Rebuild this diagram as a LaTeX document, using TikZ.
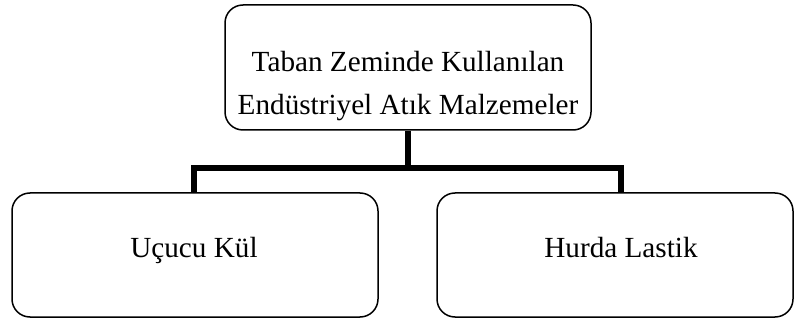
\documentclass[tikz,border=0pt]{standalone}
\usepackage{fontspec}
\setmainfont{Liberation Serif}
\begin{document}
\begin{tikzpicture}[x=1pt,y=1pt,
  box/.style={draw=black,line width=1.5pt,rounded corners=18pt,fill=white,inner sep=0pt},
  lbl/.style={font=\fontsize{29.2}{43}\selectfont,inner sep=0pt,anchor=base,align=center},
  conn/.style={draw=black,line width=5.5pt,line join=miter}]
\useasboundingbox[fill=white] (0,0) rectangle (795,324);
\node[box,minimum width=366pt,minimum height=125pt] (top) at (408,256.5) {};
\node[box,minimum width=366pt,minimum height=124pt] (left) at (195,69) {};
\node[box,minimum width=356pt,minimum height=124pt] (right) at (615,69) {};
\node[lbl] (toptext) at (408,209) {Taban Zeminde Kullanılan\\Endüstriyel Atık Malzemeler};
\node[lbl] (lefttext) at (194,66) {Uçucu Kül};
\node[lbl] (righttext) at (621,66) {Hurda Lastik};
\coordinate (j) at (408,156);
\coordinate (lt) at (194,131.7);
\coordinate (rt) at (621,131.7);
\draw[conn] (top.south) -- (j);
\draw[conn] (lt) |- (j) -| (rt);
\end{tikzpicture}
\end{document}
